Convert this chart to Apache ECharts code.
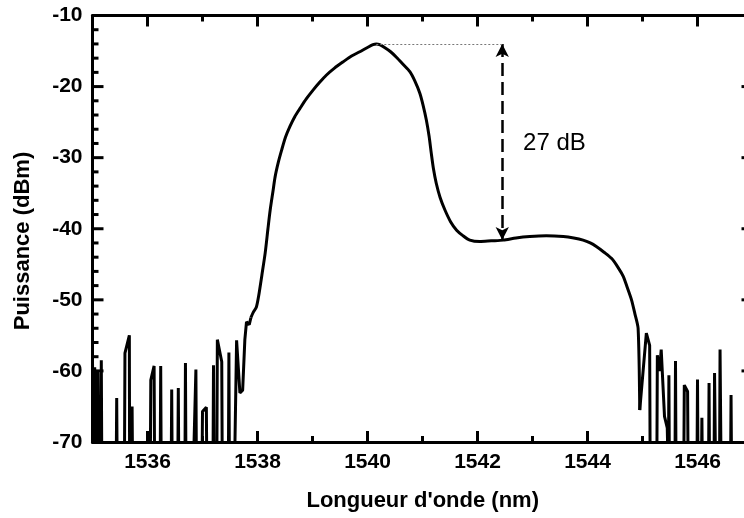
<!DOCTYPE html>
<html>
<head>
<meta charset="utf-8">
<script src="https://cdn.jsdelivr.net/npm/echarts@6/dist/echarts.min.js"></script>
<style>html,body{margin:0;padding:0;background:#fff}#c{width:744px;height:518px;background:#fff}</style>
</head>
<body>
<div id="c"></div>
<script>
// ---- data (wavelength nm, power dBm); -75 = below display floor ----
const noiseLeft = [
  [1535.00,-58.5],[1535.02,-75],[1535.04,-59.5],[1535.06,-75],[1535.08,-60.0],[1535.10,-60.3],[1535.11,-75],
  [1535.15,-75],[1535.16,-58.5],[1535.17,-75],[1535.43,-75],[1535.44,-63.8],[1535.45,-75],
  [1535.58,-75],[1535.59,-57.5],[1535.67,-55.0],[1535.675,-75],[1535.71,-75],[1535.72,-65.0],[1535.73,-75],
  [1536.05,-75],[1536.06,-61.3],[1536.12,-59.3],[1536.13,-75],[1536.23,-75],[1536.24,-59.3],[1536.25,-75],
  [1536.43,-75],[1536.44,-62.6],[1536.45,-75],[1536.55,-75],[1536.56,-62.4],[1536.57,-75],
  [1536.68,-75],[1536.69,-58.9],[1536.70,-75],[1536.83,-75],[1536.88,-59.8],[1536.89,-75],
  [1536.99,-75],[1537.00,-65.7],[1537.07,-65.1],[1537.08,-75],[1537.19,-75],[1537.20,-59.2],[1537.21,-75],
  [1537.26,-75],[1537.27,-55.6],[1537.35,-58.7],[1537.36,-75],[1537.47,-75],[1537.48,-57.4],[1537.49,-75],
  [1537.58,-75],[1537.62,-55.7],[1537.68,-63.1],[1537.73,-62.7],[1537.77,-55.6],[1537.80,-53.1],[1537.85,-53.5],[1537.88,-52.5]
];
const mainCurve = [
  [1537.92,-51.8],[1537.98,-51.0],[1538.02,-49.5],[1538.08,-46.5],[1538.14,-43.4],[1538.19,-40.0],[1538.23,-37.4],
  [1538.28,-34.8],[1538.32,-32.7],[1538.38,-30.6],[1538.44,-28.9],[1538.51,-27.1],[1538.59,-25.6],[1538.68,-24.2],
  [1538.77,-23.1],[1538.89,-21.7],[1539.01,-20.5],[1539.13,-19.4],[1539.25,-18.4],[1539.40,-17.4],[1539.56,-16.5],
  [1539.71,-15.7],[1539.86,-15.1],[1540.00,-14.5],[1540.10,-14.1],[1540.16,-14.0],[1540.22,-14.1],[1540.31,-14.5],
  [1540.42,-15.1],[1540.53,-15.9],[1540.65,-16.9],[1540.77,-17.9],[1540.86,-19.2],[1540.95,-20.9],[1541.01,-22.6],
  [1541.07,-24.7],[1541.12,-27.0],[1541.16,-29.4],[1541.20,-31.6],[1541.25,-33.6],[1541.32,-35.6],[1541.41,-37.4],
  [1541.51,-39.0],[1541.62,-40.2],[1541.74,-41.0],[1541.86,-41.6],[1542.04,-41.8],[1542.25,-41.7],[1542.47,-41.6],
  [1542.70,-41.3],[1542.95,-41.1],[1543.25,-41.0],[1543.56,-41.1],[1543.75,-41.3],[1543.92,-41.6],[1544.05,-42.0],
  [1544.16,-42.5],[1544.30,-43.3],[1544.44,-44.2],[1544.56,-45.5],[1544.65,-46.7],[1544.72,-48.2],[1544.80,-50.0],
  [1544.86,-51.9],[1544.92,-54.0]
];
const noiseRight = [
  [1544.95,-65.5],[1545.07,-54.7],[1545.13,-56.4],[1545.14,-75],[1545.26,-75],[1545.27,-57.8],[1545.31,-60.0],
  [1545.34,-57.0],[1545.40,-66.4],[1545.45,-68.0],[1545.47,-75],[1545.48,-60.6],[1545.49,-75],
  [1545.59,-75],[1545.60,-58.6],[1545.61,-75],[1545.75,-75],[1545.76,-62.0],[1545.82,-62.9],[1545.83,-75],
  [1545.99,-75],[1546.00,-61.2],[1546.01,-75],[1546.07,-75],[1546.08,-66.6],[1546.09,-75],
  [1546.20,-75],[1546.21,-61.7],[1546.22,-75],[1546.30,-75],[1546.31,-60.3],[1546.33,-75],
  [1546.40,-75],[1546.41,-57.0],[1546.43,-75],[1546.60,-75],[1546.61,-63.4],[1546.62,-75],[1547.00,-75]
];
const peakPoint = [1540.16, -14.0];
const arrowX = 1542.45;
const arrowBottom = -41.6;
const annotText = '27 dB';
const annotPos = [1542.82, -28.0];
const xRange = [1535, 1547];
const yRange = [-70, -10];
const xMajorTicks = [1536, 1538, 1540, 1542, 1544, 1546];
const xMinorTicks = [1537, 1539, 1541, 1543, 1545];
const yMajorTicks = [-60, -50, -40, -30, -20];
const yMinorTicks = [-68, -66, -64, -62, -58, -56, -54, -52, -48, -46, -44, -42, -38, -36, -34, -32,
  -28, -26, -24, -22, -18, -16, -14, -12];
const xTitle = "Longueur d'onde (nm)";
const yTitle = 'Puissance (dBm)';

const FONT = 'Liberation Sans, Arial, sans-serif';
const axisLine = {show: true, onZero: false, lineStyle: {color: '#000', width: 3}};
const blank = function () { return ''; };
const evenOnly = function (v) { return (Math.round(v) % 2 === 0) ? String(v) : ''; };
const labelFont = {fontFamily: FONT, fontWeight: 'bold', fontSize: 21, color: '#000', margin: 10};

// tick marks: [side (0 bottom,1 top,2 left,3 right), value, major flag]
const tickData = [];
xMajorTicks.forEach(function (v) { tickData.push([0, v, 1], [1, v, 1]); });
xMinorTicks.forEach(function (v) { tickData.push([0, v, 0], [1, v, 0]); });
yMajorTicks.forEach(function (v) { tickData.push([2, v, 1], [3, v, 1]); });
yMinorTicks.forEach(function (v) { tickData.push([2, v, 0], [3, v, 0]); });

function renderTick(params, api) {
  const side = api.value(0), v = api.value(1);
  const len = api.value(2) ? 11 : 6;
  let p, q;
  if (side === 0) { p = api.coord([v, yRange[0]]); q = [p[0], p[1] - len]; }
  else if (side === 1) { p = api.coord([v, yRange[1]]); q = [p[0], p[1] + len]; }
  else if (side === 2) { p = api.coord([xRange[0], v]); q = [p[0] + len, p[1]]; }
  else { p = api.coord([xRange[1], v]); q = [p[0] - len, p[1]]; }
  return {type: 'line', silent: true, z2: 100, shape: {x1: p[0], y1: p[1], x2: q[0], y2: q[1]},
    style: {stroke: '#000', lineWidth: 3, opacity: 1}};
}

const chart = echarts.init(document.getElementById('c'), null, {renderer: 'canvas'});
const lineCommon = {type: 'line', xAxisIndex: 0, yAxisIndex: 0, clip: true, showSymbol: false, symbol: 'none',
  lineStyle: {color: '#000', width: 3}};
chart.setOption({
  animation: false,
  grid: {left: 92.5, top: 15.5, width: 660, height: 426.5, outerBoundsMode: 'none'},
  xAxis: [
    {type: 'value', min: xRange[0], max: xRange[1], interval: 1, position: 'bottom', splitLine: {show: false},
      axisLine: axisLine, axisTick: {show: false}, axisLabel: Object.assign({formatter: evenOnly}, labelFont)},
    {type: 'value', min: xRange[0], max: xRange[1], interval: 1, position: 'top', splitLine: {show: false},
      axisLine: axisLine, axisTick: {show: false}, axisLabel: {formatter: blank}}
  ],
  yAxis: [
    {type: 'value', position: 'left', min: yRange[0], max: yRange[1], interval: 10, splitLine: {show: false},
      axisLine: axisLine, axisTick: {show: false},
      axisLabel: Object.assign({formatter: function (v) { return String(v); }}, labelFont)},
    {type: 'value', position: 'right', min: yRange[0], max: yRange[1], interval: 10, splitLine: {show: false},
      axisLine: axisLine, axisTick: {show: false}, axisLabel: {formatter: blank}}
  ],
  graphic: [
    {type: 'text', x: 422.7, y: 501, silent: true,
      style: {text: xTitle, font: 'bold 22px ' + FONT, fill: '#000', align: 'center', verticalAlign: 'middle'}},
    {type: 'text', x: 23, y: 241, rotation: Math.PI / 2, silent: true,
      style: {text: yTitle, font: 'bold 22px ' + FONT, fill: '#000', align: 'center', verticalAlign: 'middle'}}
  ],
  series: [
    Object.assign({}, lineCommon, {data: noiseLeft}),
    Object.assign({}, lineCommon, {
      data: [noiseLeft[noiseLeft.length - 1]].concat(mainCurve, [noiseRight[0]]),
      smooth: 0.25,
      markLine: {
        silent: true, animation: false,
        data: [
          [{coord: [arrowX, peakPoint[1]], symbol: 'arrow', symbolSize: [10, 13],
            lineStyle: {type: [13, 6], width: 2.5, color: '#000'}},
           {coord: [arrowX, arrowBottom], symbol: 'arrow', symbolSize: [10, 13]}],
          [{coord: peakPoint, symbol: 'none', lineStyle: {type: [2, 2], width: 1, color: '#777'}},
           {coord: [arrowX, peakPoint[1]], symbol: 'none'}]
        ],
        label: {show: false}
      },
      markPoint: {
        silent: true,
        data: [{coord: annotPos, symbol: 'circle', symbolSize: 1, itemStyle: {color: 'rgba(0,0,0,0)'},
          label: {show: true, position: 'right', distance: 0, formatter: annotText,
            fontFamily: FONT, fontSize: 24, color: '#000'}}]
      }
    }),
    Object.assign({}, lineCommon, {data: noiseRight}),
    {type: 'custom', xAxisIndex: 0, yAxisIndex: 0, silent: true, clip: false, zlevel: 1, z: 100,
      encode: {x: -1, y: -1}, renderItem: renderTick, data: tickData}
  ]
});
</script>
</body>
</html>
